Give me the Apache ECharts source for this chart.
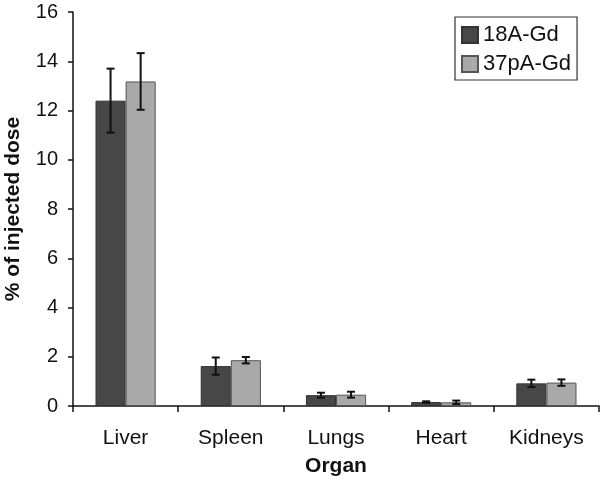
<!DOCTYPE html>
<html><head><meta charset="utf-8">
<script src="https://cdn.jsdelivr.net/npm/echarts@6/dist/echarts.min.js"></script>
<style>html,body{margin:0;padding:0;background:#fff}#c{width:601px;height:493px}</style>
</head><body><div id="c"></div>
<script>
const categories = ['Liver','Spleen','Lungs','Heart','Kidneys'];
const seriesNames = ['18A-Gd','37pA-Gd'];
const values18A = [12.4, 1.62, 0.44, 0.16, 0.92];
const errors18A = [1.3, 0.35, 0.1, 0.03, 0.15];
const values37pA = [13.18, 1.86, 0.46, 0.15, 0.95];
const errors37pA = [1.15, 0.13, 0.12, 0.07, 0.13];
const yTicks = [0, 2, 4, 6, 8, 10, 12, 14, 16];

const colors = ['#474747', '#a9a9a9'];
const barFrac = 0.286;
const FONT = 'Liberation Sans, Arial, sans-serif';

function errSeries(vals, errs, side) {
  return {
    type: 'custom',
    z: 10,
    data: vals.map((v, i) => [i, v - errs[i], v + errs[i]]),
    renderItem: function (params, api) {
      const i = api.value(0);
      const band = api.size([1, 0])[0];
      const bw = band * barFrac;
      const lo = api.coord([i, api.value(1)]);
      const hi = api.coord([i, api.value(2)]);
      const x = lo[0] + side * bw / 2;
      const cap = 4;
      const st = { stroke: '#111', lineWidth: 2 };
      return { type: 'group', children: [
        { type: 'line', shape: { x1: x, y1: lo[1], x2: x, y2: hi[1] }, style: st },
        { type: 'line', shape: { x1: x - cap, y1: lo[1], x2: x + cap, y2: lo[1] }, style: st },
        { type: 'line', shape: { x1: x - cap, y1: hi[1], x2: x + cap, y2: hi[1] }, style: st }
      ]};
    }
  };
}

const chart = echarts.init(document.getElementById('c'));
chart.setOption({
  animation: false,
  textStyle: { fontFamily: FONT },
  grid: { left: 73, right: 2, top: 12, bottom: 87, containLabel: false, outerBoundsMode: 'none' },
  legend: {
    data: seriesNames.map(n => ({ name: n, icon: 'rect' })),
    left: 455, top: 17,
    orient: 'vertical',
    itemWidth: 16, itemHeight: 16, itemGap: 7,
    padding: [7, 6, 5, 6],
    borderColor: '#333', borderWidth: 1.2,
    textStyle: { fontSize: 22, color: '#111', fontFamily: FONT }
  },
  xAxis: {
    type: 'category',
    data: categories,
    name: 'Organ', nameLocation: 'middle', nameGap: 50,
    nameTextStyle: { fontSize: 21, fontWeight: 'bold', color: '#111' },
    axisLine: { lineStyle: { color: '#111', width: 1.5 } },
    axisTick: { show: true, length: 6, lineStyle: { color: '#111', width: 1.5 } },
    axisLabel: { fontSize: 21, color: '#111', margin: 22 }
  },
  yAxis: {
    type: 'value', min: 0, max: 16, interval: 2,
    name: '% of injected dose', nameLocation: 'middle', nameGap: 49,
    nameTextStyle: { fontSize: 21, fontWeight: 'bold', color: '#111' },
    axisLine: { show: true, lineStyle: { color: '#111', width: 1.5 } },
    axisTick: { show: true, length: 5, lineStyle: { color: '#111', width: 1.5 } },
    axisLabel: { fontSize: 20, color: '#111', margin: 15, formatter: v => yTicks.includes(v) ? String(v) : '' },
    splitLine: { show: false }
  },
  series: [
    { name: seriesNames[0], type: 'bar', data: values18A, barWidth: (barFrac*100)+'%', barGap: '0%',
      itemStyle: { color: colors[0], borderColor: '#333', borderWidth: 1 } },
    { name: seriesNames[1], type: 'bar', data: values37pA, barWidth: (barFrac*100)+'%', barGap: '0%',
      itemStyle: { color: colors[1], borderColor: '#555', borderWidth: 1 } },
    errSeries(values18A, errors18A, -1),
    errSeries(values37pA, errors37pA, 1)
  ]
});
</script></body></html>
